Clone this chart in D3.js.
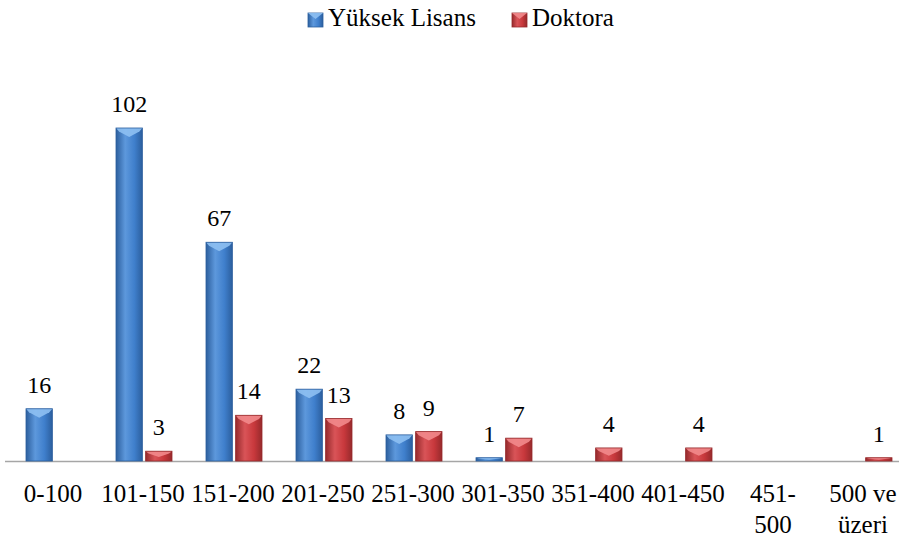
<!DOCTYPE html>
<html>
<head>
<meta charset="utf-8">
<script src="https://cdn.jsdelivr.net/npm/d3@7"></script>
</head>
<body>
<script>
// data
var categories = ["0-100", "101-150", "151-200", "201-250", "251-300", "301-350", "351-400", "401-450", "451-500", "500 ve üzeri"];
var catLines = [["0-100"], ["101-150"], ["151-200"], ["201-250"], ["251-300"], ["301-350"], ["351-400"], ["401-450"], ["451-", "500"], ["500 ve", "üzeri"]];
var seriesNames = ["Yüksek Lisans", "Doktora"];
var yuksekLisans = [16, 102, 67, 22, 8, 1, 0, 0, 0, 0];
var doktora = [0, 3, 14, 13, 9, 7, 4, 4, 0, 1];

d3.select("body").style("margin", "0px");
var w = 904, h = 539;
var left = 8, baseY = 461;
var svg = d3.select("body").append("svg")
  .attr("width", w).attr("height", h)
  .style("display", "block");

var palettes = [
  {id: "blue", edge: "#2c5f9e", mid: "#3f7fcc", light: "#5d98dc", cap: "#8ec0f2"},
  {id: "red", edge: "#962a2c", mid: "#c8383c", light: "#d95458", cap: "#f28a8c"}
];
var defs = svg.append("defs");
palettes.forEach(function(p){
  var g = defs.append("linearGradient").attr("id", "g_" + p.id)
    .attr("x1", 0).attr("x2", 1).attr("y1", 0).attr("y2", 0);
  g.append("stop").attr("offset", "0%").attr("stop-color", p.edge);
  g.append("stop").attr("offset", "35%").attr("stop-color", p.light);
  g.append("stop").attr("offset", "70%").attr("stop-color", p.mid);
  g.append("stop").attr("offset", "100%").attr("stop-color", p.edge);
});

var x = d3.scaleBand().domain(categories).range([left, left + 90 * categories.length]);
var x1 = d3.scaleBand().domain(seriesNames).range([18, 74]).paddingInner(0.11);
var y = d3.scaleLinear().domain([0, 102]).range([baseY, 128]);

// axis line
svg.append("line")
  .attr("x1", 5).attr("x2", 899).attr("y1", baseY + 0.5).attr("y2", baseY + 0.5)
  .attr("stroke", "#a6a6a6").attr("stroke-width", 1.5);

// bars
[yuksekLisans, doktora].forEach(function(vals, si){
  var p = palettes[si];
  categories.forEach(function(c, i){
    var v = vals[i];
    if (v === 0) return;
    var bx = x(c) + x1(seriesNames[si]);
    var bw = x1.bandwidth();
    var top = y(v), bh = baseY - top;
    svg.append("rect")
      .attr("x", bx).attr("y", top).attr("width", bw).attr("height", bh)
      .attr("fill", "url(#g_" + p.id + ")");
    var capH = Math.min(9, bh * 0.6);
    svg.append("path")
      .attr("d", "M" + bx + "," + top + "L" + (bx + bw) + "," + top +
        "L" + (bx + bw - 3) + "," + (top + capH * 0.4) + "L" + (bx + bw / 2) + "," + (top + capH) +
        "L" + (bx + 3) + "," + (top + capH * 0.4) + "Z")
      .attr("fill", p.cap).attr("opacity", 0.9);
    svg.append("rect")
      .attr("x", bx).attr("y", top).attr("width", bw).attr("height", bh)
      .attr("fill", "none").attr("stroke", p.edge).attr("stroke-width", 0.8);
  });
});

// value labels
[yuksekLisans, doktora].forEach(function(vals, si){
  categories.forEach(function(c, i){
    var v = vals[i];
    if (v === 0) return;
    svg.append("text")
      .attr("x", x(c) + x1(seriesNames[si]) + x1.bandwidth() / 2)
      .attr("y", y(v) - 16)
      .attr("text-anchor", "middle")
      .attr("font-family", "'Liberation Serif'")
      .style("font-size", "24px")
      .text(v);
  });
});

// category labels
categories.forEach(function(c, i){
  catLines[i].forEach(function(line, k){
    svg.append("text")
      .attr("x", x(c) + x.bandwidth() / 2)
      .attr("y", 502 + k * 31)
      .attr("text-anchor", "middle")
      .attr("font-family", "'Liberation Serif'")
      .style("font-size", "25px")
      .text(line);
  });
});

// legend
var legendX = [308, 512];
seriesNames.forEach(function(name, si){
  var p = palettes[si];
  svg.append("rect")
    .attr("x", legendX[si]).attr("y", 13).attr("width", 15).attr("height", 14)
    .attr("fill", "url(#g_" + p.id + ")").attr("stroke", p.edge).attr("stroke-width", 0.8);
  svg.append("path")
    .attr("d", "M" + legendX[si] + ",13L" + (legendX[si] + 15) + ",13L" + (legendX[si] + 7.5) + ",19Z")
    .attr("fill", p.cap).attr("opacity", 0.9);
  svg.append("text")
    .attr("x", legendX[si] + 20).attr("y", 26)
    .attr("font-family", "'Liberation Serif'")
    .style("font-size", "25px")
    .text(name);
});
</script>
</body>
</html>
